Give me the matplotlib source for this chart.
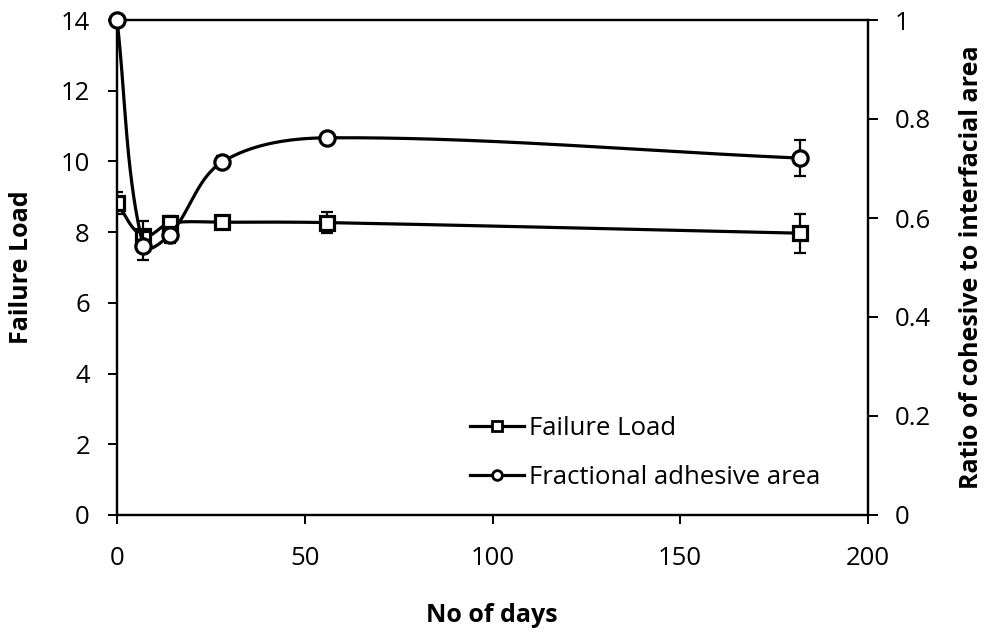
import matplotlib.pyplot as plt
import numpy as np
from matplotlib.lines import Line2D

plt.rcParams['font.family'] = ['Open Sans', 'DejaVu Sans']

days = [0, 7, 14, 28, 56, 182]
failure_load = [8.82, 7.9, 8.25, 8.28, 8.27, 7.97]
failure_err = [0.31, 0.42, 0.2, 0.15, 0.3, 0.55]
adhesive_area = [1.0, 0.543, 0.566, 0.713, 0.762, 0.721]
adhesive_err = [0.0, 0.028, 0.016, 0.012, 0.0, 0.037]

XLIM = (0, 200)
Y1LIM = (0, 14)
Y2LIM = (0, 1)
W, H = 751, 495  # plot area in pixels
FS = 18.5
FS_BOLD = 18


def smooth(x, y, xr, yr, n=60):
    # bezier smoothing through the points, tangents scaled by segment length
    px = (np.asarray(x, float) - xr[0]) / (xr[1] - xr[0]) * W
    py = (np.asarray(y, float) - yr[0]) / (yr[1] - yr[0]) * H
    pts = np.column_stack([px, py])
    m = len(pts)
    tang = []
    for i in range(m):
        d = pts[min(i + 1, m - 1)] - pts[max(i - 1, 0)]
        tang.append(d / np.linalg.norm(d))
    out = []
    t = np.linspace(0, 1, n)[:, None]
    for i in range(m - 1):
        p1, p2 = pts[i], pts[i + 1]
        L = np.linalg.norm(p2 - p1) / 3
        c1 = p1 + tang[i] * L
        c2 = p2 - tang[i + 1] * L
        seg = (1 - t) ** 3 * p1 + 3 * (1 - t) ** 2 * t * c1 + 3 * (1 - t) * t ** 2 * c2 + t ** 3 * p2
        out.append(seg)
    out = np.vstack(out)
    sx = out[:, 0] / W * (xr[1] - xr[0]) + xr[0]
    sy = out[:, 1] / H * (yr[1] - yr[0]) + yr[0]
    return sx, sy


fig = plt.figure(figsize=(9.9, 6.36), dpi=100)
ax = fig.add_axes([117 / 990, 121 / 636, W / 990, H / 636])
ax2 = ax.twinx()

lw = 2.3
ms = 10

sx, sy = smooth(days, failure_load, XLIM, Y1LIM)
ax.plot(sx, sy, color='black', lw=lw, zorder=2)
ax.errorbar(days, failure_load, yerr=failure_err, fmt='none', ecolor='black',
            elinewidth=1.6, capsize=4, capthick=1.6, zorder=2)
ax.plot(days, failure_load, ls='none', marker='s', ms=ms, mfc='white',
        mec='black', mew=2.3, zorder=3)

sx2, sy2 = smooth(days, adhesive_area, XLIM, Y2LIM)
ax2.plot(sx2, sy2, color='black', lw=lw, zorder=2)
ax2.errorbar(days, adhesive_area, yerr=adhesive_err, fmt='none', ecolor='black',
             elinewidth=1.6, capsize=4, capthick=1.6, zorder=2)
ax2.plot(days, adhesive_area, ls='none', marker='o', ms=ms + 1, mfc='white',
         mec='black', mew=2.3, zorder=3, clip_on=False)

ax.set_xlim(*XLIM)
ax.set_ylim(*Y1LIM)
ax2.set_ylim(*Y2LIM)

ax.set_xticks(range(0, 201, 50))
ax.set_yticks(range(0, 15, 2))
ax2.set_yticks([0, 0.2, 0.4, 0.6, 0.8, 1])
ax2.set_yticklabels(['0', '0.2', '0.4', '0.6', '0.8', '1'])

for a in (ax, ax2):
    for s in a.spines.values():
        s.set_linewidth(1.6)
ax.tick_params(axis='x', direction='out', length=6.5, width=1.4, labelsize=FS, pad=16)
ax.tick_params(axis='y', direction='out', length=6.5, width=1.4, labelsize=FS, pad=13)
ax2.tick_params(axis='y', direction='out', length=7.5, width=1.4, labelsize=FS, pad=12)

fig.text(492 / 990, 1 - 615 / 636, 'No of days', fontsize=FS_BOLD, fontweight='bold',
         ha='center', va='center')
fig.text(22 / 990, 1 - 267 / 636, 'Failure Load', fontsize=FS_BOLD, fontweight='bold',
         ha='center', va='center', rotation=90)
fig.text(972 / 990, 1 - 267 / 636, 'Ratio of cohesive to interfacial area', fontsize=FS_BOLD,
         fontweight='bold', ha='center', va='center', rotation=90)

handles = [
    Line2D([], [], color='black', lw=lw, marker='s', ms=7, mfc='white', mec='black', mew=2.0),
    Line2D([], [], color='black', lw=lw, marker='o', ms=7, mfc='white', mec='black', mew=2.0),
]
ax2.legend(handles, ['Failure Load', 'Fractional adhesive area'], loc='center left',
           bbox_to_anchor=(470 / 990, 1 - 453 / 636), bbox_transform=fig.transFigure,
           frameon=False, fontsize=FS, borderpad=0, borderaxespad=0,
           handlelength=2.1, handletextpad=0.2, labelspacing=0.95)

fig.savefig('out.png', dpi=100)
